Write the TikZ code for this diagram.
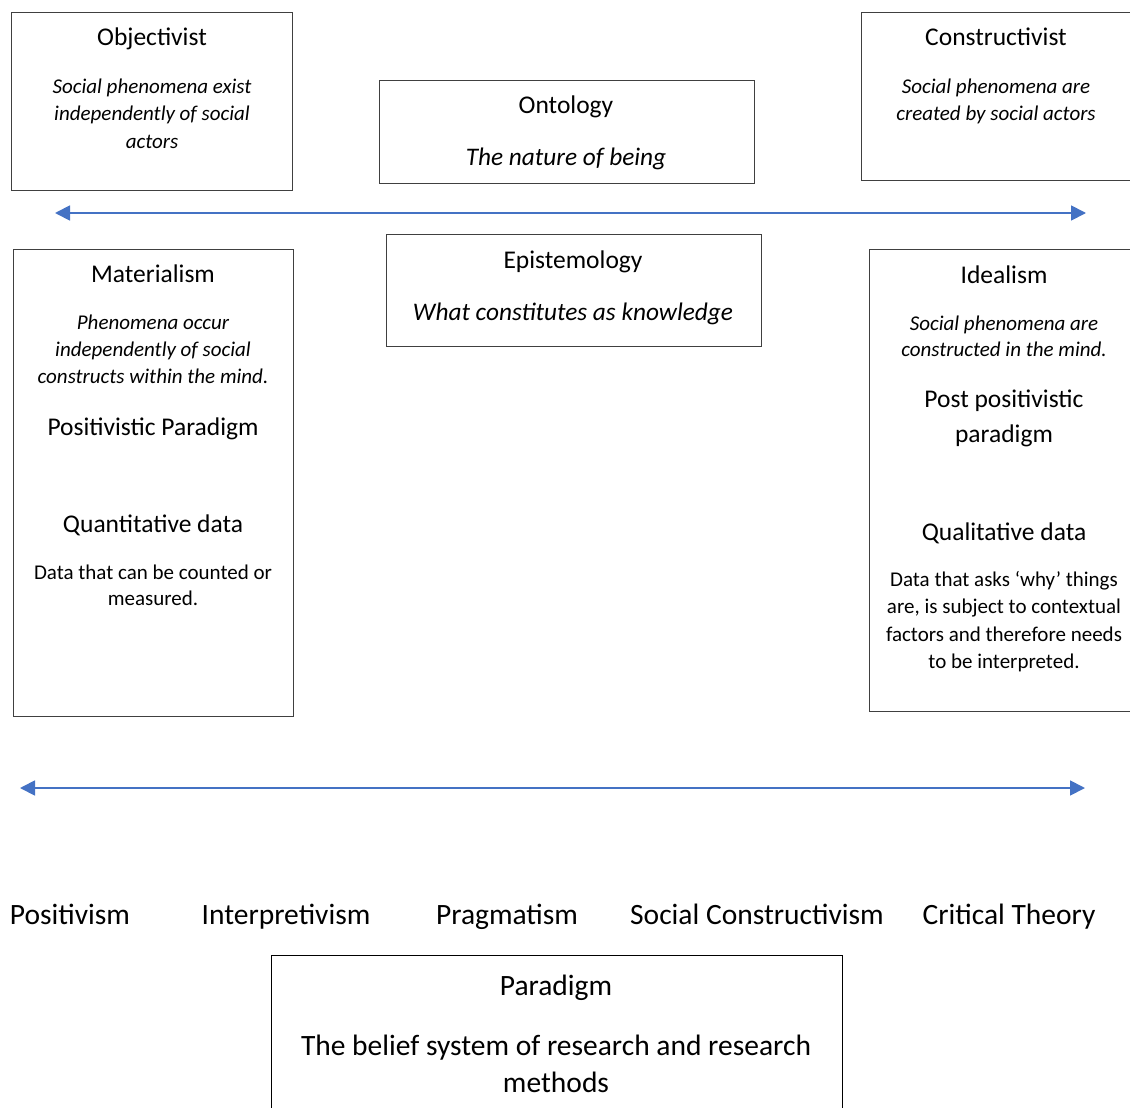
\documentclass[tikz,border=0pt]{standalone}
\usepackage{fontspec}
\setmainfont{Carlito}
\usetikzlibrary{arrows.meta}
\definecolor{arrowblue}{HTML}{4472C4}
\definecolor{boxgrey}{HTML}{404040}
\tikzset{
  panel/.style={draw=boxgrey, line width=1.4pt, anchor=north west, inner sep=0pt},
  heading/.style={inner sep=0pt, text height=20pt, text depth=1.2pt, font=\fontsize{25.5}{30}\selectfont},
  subhead/.style={inner sep=0pt, text height=20pt, text depth=1.2pt, font=\fontsize{25.3}{30}\selectfont\itshape},
  note/.style={inner sep=0pt, text height=16.5pt, text depth=0.8pt, font=\fontsize{21}{25}\selectfont\itshape},
  plain/.style={inner sep=0pt, text height=16.5pt, text depth=0.8pt, font=\fontsize{21}{25}\selectfont},
  label/.style={inner sep=0pt, text height=22pt, text depth=1pt, font=\fontsize{29.5}{34}\selectfont},
  spectrum/.style={draw=arrowblue, line width=1.8pt,
    {Triangle[length=15pt,width=15pt]}-{Triangle[length=15pt,width=15pt]}},
}
\begin{document}
\begin{tikzpicture}[x=1pt, y=-1pt]
\useasboundingbox (0,0) rectangle (1130,1108);
\clip (0,0) rectangle (1130,1108);

% ontology row
\node[panel, minimum width=281pt, minimum height=178pt] (obj) at (11,12) {};
\node[heading] (objT) at (152,36) {Objectivist};
\node[note] (objA) at (152,86) {Social phenomena exist};
\node[note] (objB) at (152,113) {independently of social};
\node[note] (objC) at (152,141) {actors};

\node[panel, minimum width=375pt, minimum height=103pt] (ont) at (379,80) {};
\node[heading] (ontT) at (566,104) {Ontology};
\node[subhead] (ontS) at (566,156) {The nature of being};

\node[panel, minimum width=300pt, minimum height=168pt] (con) at (861,12) {};
\node[heading] (conT) at (996,36) {Constructivist};
\node[note] (conA) at (996,86) {Social phenomena are};
\node[note] (conB) at (996,113) {created by social actors};

\coordinate (ontL) at (55,213);
\coordinate (ontR) at (1086,213);
\draw[spectrum] (ontL) -- (ontR);

% epistemology row
\node[panel, minimum width=280pt, minimum height=467pt] (mat) at (13,249) {};
\node[heading] (matT) at (153,273) {Materialism};
\node[note] (matA) at (153,322) {Phenomena occur};
\node[note] (matB) at (153,349) {independently of social};
\node[note] (matC) at (153,376) {constructs within the mind.};
\node[heading] (matP) at (153,426) {Positivistic Paradigm};
\node[heading] (matQ) at (153,523) {Quantitative data};
\node[plain] (matD) at (153,572) {Data that can be counted or};
\node[plain] (matE) at (153,598) {measured.};

\node[panel, minimum width=375pt, minimum height=112pt] (epi) at (386,234) {};
\node[heading] (epiT) at (573,259) {Epistemology};
\node[subhead] (epiS) at (573,311) {What constitutes as knowledge};

\node[panel, minimum width=300pt, minimum height=462pt] (ide) at (869,249) {};
\node[heading] (ideT) at (1004,274) {Idealism};
\node[note] (ideA) at (1004,323) {Social phenomena are};
\node[note] (ideB) at (1004,349) {constructed in the mind.};
\node[heading] (ideP) at (1004,398) {Post positivistic};
\node[heading] (ideQ) at (1004,433) {paradigm};
\node[heading] (ideR) at (1004,531) {Qualitative data};
\node[plain] (ideD) at (1004,579) {Data that asks ‘why’ things};
\node[plain] (ideE) at (1004,606) {are, is subject to contextual};
\node[plain] (ideF) at (1004,634) {factors and therefore needs};
\node[plain] (ideG) at (1004,661) {to be interpreted.};

\coordinate (parL) at (20,788);
\coordinate (parR) at (1085,788);
\draw[spectrum] (parL) -- (parR);

% paradigm names along the spectrum
\node[label] (pos) at (70,914) {Positivism};
\node[label] (int) at (286,914) {Interpretivism};
\node[label] (pra) at (507,914) {Pragmatism};
\node[label] (soc) at (757,914) {Social Constructivism};
\node[label] (cri) at (1009,914) {Critical Theory};

\node[panel, draw=black, minimum width=571pt, minimum height=170pt] (par) at (271,955) {};
\node[label] (parT) at (556,985) {Paradigm};
\node[label] (parA) at (556,1045) {The belief system of research and research};
\node[label] (parB) at (556,1082) {methods};
\end{tikzpicture}
\end{document}
